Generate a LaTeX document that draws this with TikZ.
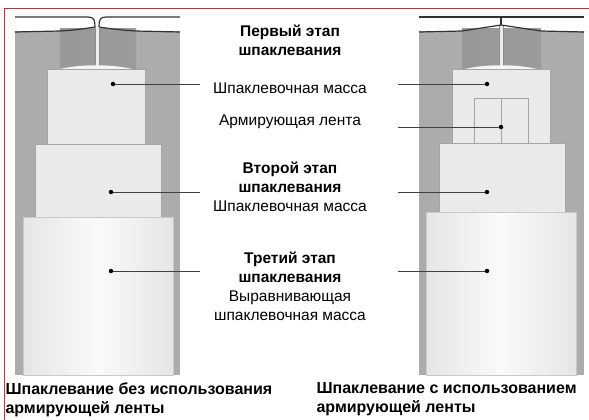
\documentclass[tikz,border=0pt]{standalone}
\usepackage{fontspec}
\setmainfont{Liberation Sans}
\usepackage{tikz}

\definecolor{wandgrau}{RGB}{172,172,172}
\definecolor{fugegrau}{RGB}{152,152,152}
\definecolor{spachtel}{RGB}{234,234,234}
\definecolor{kante}{RGB}{165,165,165}
\definecolor{rahmenrot}{RGB}{214,40,48}

\begin{document}
\begin{tikzpicture}[x=1pt, y=-1pt,
  schicht/.style={fill=spachtel, draw=kante, line width=0.7pt},
  glatt/.style={left color=black!10, right color=black!10, middle color=black!2, draw=kante!60, line width=0.5pt},
  brett/.style={draw=black!80, line width=1.2pt},
  punkt/.style={circle, fill=black, inner sep=0pt, minimum size=4.5pt},
  leitung/.style={draw=black!75, line width=1pt},
  txt/.style={align=center, font={\fontsize{15.5}{19}\selectfont}},
  unten/.style={align=left, anchor=north west, font={\fontsize{16}{19}\selectfont\bfseries}}]
\useasboundingbox (0,0) rectangle (589,420);

% rahmen
\draw[rahmenrot, line width=1pt] (4,420) -- (4,9) -- (589,9);

% linke wand
\fill[wandgrau] (15,31) rectangle (180,375);
\shade[left color=fugegrau, right color=wandgrau!90!black] (60,29) rectangle (136,69);
\fill[white!85!gray] (95,27) rectangle (99,66);
\draw[brett] (15,17) -- (88,17) .. controls (94,17) and (95,20) .. (95,27);
\draw[brett] (180,17) -- (106,17) .. controls (100,17) and (99,20) .. (99,27);
\draw[brett] (15,32) -- (60,31) .. controls (78,30) and (88,28) .. (95,27);
\draw[brett] (180,32) -- (136,31) .. controls (118,30) and (106,28) .. (99,27);
\draw[black!45, line width=0.6pt] (95,27) -- (95,66) (99,27) -- (99,66);

% rechte wand
\fill[wandgrau] (419,31) rectangle (584,375);
\shade[left color=fugegrau, right color=wandgrau!90!black] (462,29) rectangle (541,69);
\fill[white!85!gray] (499,25) rectangle (503,66);
\draw[brett] (419,17) -- (584,17);
\draw[brett] (501,17) -- (501,25);
\draw[brett] (419,32) -- (462,31) -- (501,25) -- (541,31) -- (584,32);
\draw[black!45, line width=0.6pt] (499,26) -- (499,66) (503,26) -- (503,66);

% erste schicht
\draw[schicht] (47,69) rectangle (145,145);
\fill[white!92!gray] (60,69) .. controls (80,64) and (112,64) .. (132,69) -- cycle;
\draw[schicht] (452,69) rectangle (550,144);
\fill[white!92!gray] (465,69) .. controls (485,64) and (517,64) .. (537,69) -- cycle;

% band
\draw[kante, line width=0.8pt] (474,98) rectangle (528,143);
\draw[kante, line width=0.8pt] (501,98) -- (501,143);

% zweite schicht
\draw[schicht] (35,144) rectangle (161,217);
\draw[schicht] (439,143) rectangle (565,212);

% dritte schicht
\shade[glatt] (23,217) rectangle (173,375);
\shade[glatt] (426,212) rectangle (576,375);

% punkte
\node[punkt] (l1) at (113,84) {};
\node[punkt] (l2) at (111,192) {};
\node[punkt] (l3) at (111,271) {};
\node[punkt] (r1) at (487,84) {};
\node[punkt] (rb) at (501,127) {};
\node[punkt] (r2) at (487,192) {};
\node[punkt] (r3) at (487,271) {};

\coordinate (el1) at (200,84);
\coordinate (el2) at (200,192);
\coordinate (el3) at (200,271);
\coordinate (er1) at (398,84);
\coordinate (erb) at (398,127);
\coordinate (er2) at (398,192);
\coordinate (er3) at (398,271);

\draw[leitung] (l1) -- (el1);
\draw[leitung] (l2) -- (el2);
\draw[leitung] (l3) -- (el3);
\draw[leitung] (r1) -- (er1);
\draw[leitung] (rb) -- (erb);
\draw[leitung] (r2) -- (er2);
\draw[leitung] (r3) -- (er3);

% beschriftung mitte
\node[txt, font={\fontsize{15.5}{19}\selectfont\bfseries}] (e1) at (290,40) {Первый этап\\шпаклевания};
\node[txt] (m1) at (290,88) {Шпаклевочная масса};
\node[txt] (b1) at (290,122) {Армирующая лента};
\node[txt] (e2) at (290,187) {\textbf{Второй этап}\\\textbf{шпаклевания}\\Шпаклевочная масса};
\node[txt] (e3) at (290,286) {\textbf{Третий этап}\\\textbf{шпаклевания}\\Выравнивающая\\шпаклевочная масса};

% beschriftung unten
\node[unten] (ohne) at (2,379) {Шпаклевание без использования\\армирующей ленты};
\node[unten] (mit) at (313,379) {Шпаклевание с использованием\\армирующей ленты};

\end{tikzpicture}
\end{document}
